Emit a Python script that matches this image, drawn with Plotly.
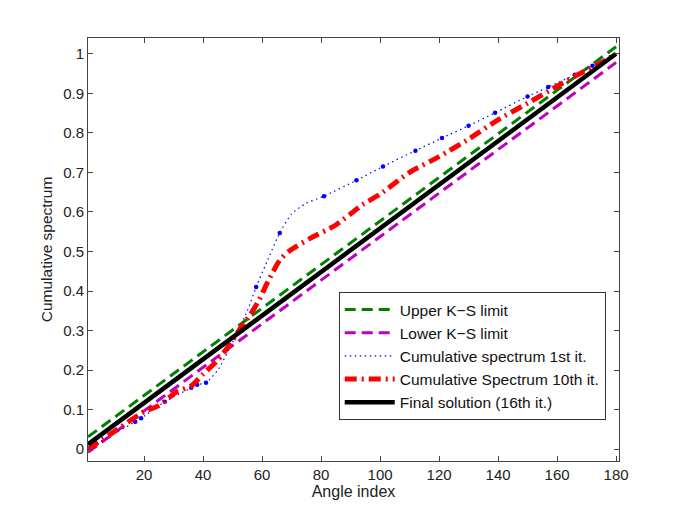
import plotly.graph_objects as go

# ---- data ----
x_lim = [1, 180]
upper_ks = [0.031, 1.018]
lower_ks = [-0.008, 0.978]
final_sol = [0.012, 1.0]

x_it1 = [1, 10, 17, 19, 27, 32, 36, 38, 41, 45, 50, 55, 58, 62, 66, 70, 75, 81, 92, 101, 112, 121, 130, 139, 150, 157, 166, 172, 180]
y_it1 = [0.0, 0.04, 0.069, 0.078, 0.12, 0.14, 0.155, 0.163, 0.168, 0.2, 0.27, 0.35, 0.41, 0.48, 0.547, 0.595, 0.622, 0.64, 0.68, 0.715, 0.755, 0.787, 0.818, 0.851, 0.892, 0.916, 0.947, 0.97, 1.0]

x_it1_dots = [17, 19, 27, 36, 38, 41, 58, 66, 81, 92, 101, 112, 121, 130, 139, 150, 157, 166, 172]
y_it1_dots = [0.069, 0.078, 0.12, 0.155, 0.163, 0.168, 0.41, 0.547, 0.64, 0.68, 0.715, 0.755, 0.787, 0.818, 0.851, 0.892, 0.916, 0.947, 0.97]

x_it10 = [1, 10, 20, 25, 31, 36, 40, 45, 50, 53, 56, 59, 62, 66, 69, 76, 85, 94, 100, 110, 120, 130, 140, 150, 160, 167, 175, 180]
y_it10 = [0.0, 0.045, 0.095, 0.11, 0.145, 0.16, 0.19, 0.225, 0.275, 0.31, 0.34, 0.377, 0.424, 0.478, 0.5, 0.532, 0.567, 0.618, 0.645, 0.70, 0.74, 0.784, 0.833, 0.875, 0.918, 0.947, 0.978, 1.0]

x_ticks = [20, 40, 60, 80, 100, 120, 140, 160, 180]
y_ticks = [0, 0.1, 0.2, 0.3, 0.4, 0.5, 0.6, 0.7, 0.8, 0.9, 1]
y_tick_text = ["0", "0.1", "0.2", "0.3", "0.4", "0.5", "0.6", "0.7", "0.8", "0.9", "1"]

FONT = "Liberation Sans, Arial, Helvetica, sans-serif"

fig = go.Figure()
fig.add_trace(go.Scatter(x=x_lim, y=upper_ks, mode="lines", name="Upper K\u2212S limit",
                         line=dict(color="#008000", width=3, dash="11px,6px")))
fig.add_trace(go.Scatter(x=x_lim, y=lower_ks, mode="lines", name="Lower K\u2212S limit",
                         line=dict(color="#BF00BF", width=3, dash="11px,6px")))
fig.add_trace(go.Scatter(x=x_it1, y=y_it1, mode="lines", name="Cumulative spectrum 1st it.",
                         line=dict(color="#0000FF", width=1.2, dash="1.5px,3.5px", shape="spline", smoothing=0.6)))
fig.add_trace(go.Scatter(x=x_it1_dots, y=y_it1_dots, mode="markers", showlegend=False,
                         marker=dict(size=4.5, color="#0000FF")))
fig.add_trace(go.Scatter(x=x_it10, y=y_it10, mode="lines", name="Cumulative Spectrum 10th it.",
                         line=dict(color="#FF0000", width=5, dash="12px,5px,2px,5px", shape="spline", smoothing=0.6)))
fig.add_trace(go.Scatter(x=x_lim, y=final_sol, mode="lines", name="Final solution (16th it.)",
                         line=dict(color="#000000", width=4.5)))

axis_common = dict(showgrid=False, zeroline=False, showline=True, linecolor="#444444", linewidth=1,
                   mirror="allticks", ticks="inside", ticklen=5, tickcolor="#444444",
                   tickfont=dict(family=FONT, size=15, color="#222222"))

fig.update_layout(
    width=677, height=506,
    margin=dict(l=80, r=66, t=30, b=53),
    paper_bgcolor="white", plot_bgcolor="white",
    font=dict(family=FONT, size=15, color="#222222"),
    xaxis=dict(range=[1, 181], tickvals=x_ticks,
               title=dict(text="Angle index", font=dict(family=FONT, size=16), standoff=1),
               ticklabelstandoff=0,
               **axis_common),
    yaxis=dict(range=[-0.03, 1.04], tickvals=y_ticks, ticktext=y_tick_text,
               title=dict(text="Cumulative spectrum", font=dict(family=FONT, size=15.5), standoff=6),
               **axis_common),
    legend=dict(x=0.975, y=0.097, xanchor="right", yanchor="bottom",
                bgcolor="white", bordercolor="#333333", borderwidth=1,
                font=dict(family=FONT, size=15.5, color="#111111"),
                tracegroupgap=0, itemwidth=50),
    showlegend=True,
)

fig.write_html("out.html")
